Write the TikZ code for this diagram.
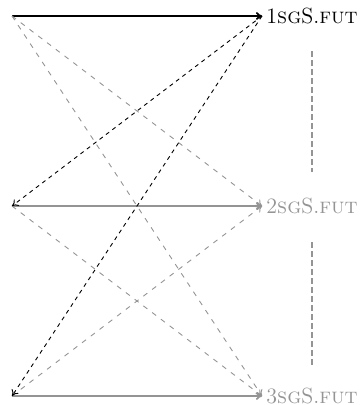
\documentclass[tikz,border=0pt]{standalone}
\usetikzlibrary{arrows.meta}
\colorlet{lightline}{black!42}
\tikzset{
  solidline/.style={line width=0.9pt},
  blackdash/.style={line width=0.45pt, dash pattern=on 2pt off 2pt},
  graydash/.style={line width=0.45pt, lightline, dash pattern=on 2.5pt off 3pt},
  vertdash/.style={line width=0.6pt, lightline, dash pattern=on 3pt off 1.5pt},
  formlabel/.style={anchor=west, inner sep=2pt, font=\fontsize{11}{13}\selectfont}
}
\begin{document}
\begin{tikzpicture}[x=0.5pt, y=-0.5pt, >={To[length=3pt,width=4pt]}]
\useasboundingbox (0,0) rectangle (360,405);
\coordinate (l1) at (12,16);
\coordinate (r1) at (262,16);
\coordinate (l2) at (12,206);
\coordinate (r2) at (262,206);
\coordinate (l3) at (12,396);
\coordinate (r3) at (262,396);
\node[formlabel] (f1) at (r1) {1\textsc{sg}S.\textsc{fut}};
\node[formlabel, lightline] (f2) at (r2) {2\textsc{sg}S.\textsc{fut}};
\node[formlabel, lightline] (f3) at (r3) {3\textsc{sg}S.\textsc{fut}};

\draw[->, solidline] (l1) -- (r1);
\draw[->, solidline, lightline] (l2) -- (r2);
\draw[->, solidline, lightline] (l3) -- (r3);
\draw[->, graydash] (l1) -- (r2);
\draw[->, graydash] (l1) -- (r3);
\draw[->, graydash] (l2) -- (r3);
\draw[->, graydash] (l3) -- (r2);
\draw[->, blackdash] (r1) -- (l2);
\draw[->, blackdash] (r1) -- (l3);
\draw[vertdash, shorten <=11.5pt, shorten >=11pt] (f1) -- (f2);
\draw[vertdash, shorten <=12pt, shorten >=9.5pt] (f2) -- (f3);
\end{tikzpicture}
\end{document}
